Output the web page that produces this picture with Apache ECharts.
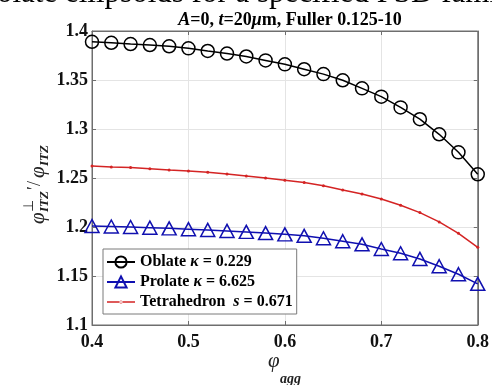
<!DOCTYPE html>
<html><head><meta charset="utf-8">
<script src="https://cdn.jsdelivr.net/npm/echarts@6/dist/echarts.min.js"></script>
<style>html,body{margin:0;padding:0;background:#fff}#c{width:492px;height:385px}</style>
</head><body><div id="c"></div>
<script>
var phiAgg = [0.40,0.42,0.44,0.46,0.48,0.50,0.52,0.54,0.56,0.58,0.60,0.62,0.64,0.66,0.68,0.70,0.72,0.74,0.76,0.78,0.80];
var oblate = [1.389,1.388,1.3867,1.3857,1.3844,1.3823,1.3796,1.377,1.374,1.370,1.366,1.361,1.356,1.3497,1.3415,1.333,1.322,1.310,1.2946,1.2762,1.2538];
var prolate = [1.201,1.2005,1.2,1.1993,1.1986,1.1978,1.197,1.196,1.195,1.1938,1.1925,1.191,1.1885,1.1855,1.1823,1.1775,1.1732,1.1674,1.160,1.1518,1.142];
var tetra = [1.2623,1.2613,1.2606,1.2595,1.2582,1.2572,1.2559,1.2541,1.252,1.25,1.2477,1.2453,1.242,1.2378,1.2337,1.2286,1.2222,1.2147,1.2052,1.1936,1.1793];
var seriesNames = ['Oblate', 'Prolate', 'Tetrahedron'];
var legendLabels = {
  'Oblate': '{b|Oblate }{i|κ}{b| = 0.229}',
  'Prolate': '{b|Prolate }{i|κ}{b| = 6.625}',
  'Tetrahedron': '{b|Tetrahedron  }{i|s}{b| = 0.671}'
};
var xTicks = {min:0.4, max:0.8, step:0.1};
var yTicks = {min:1.1, max:1.4, step:0.05};

function pairs(ys){ return phiAgg.map(function(x,i){return [x, ys[i]];}); }
var FONT = '"Liberation Serif","Times New Roman",serif';
var chart = echarts.init(document.getElementById('c'), null, {renderer:'canvas'});
var axisCol = '#6e6e6e';
var gridCol = '#e4e4e4';
var BLUE = '#1010b0', RED = '#d42424';
function fmt(v){ return String(parseFloat(v.toFixed(2))); }
var option = {
  backgroundColor:'#fff',
  animation:false,
  title:{
    text:'{i|A}{b|=0, }{i|t}{b|=20}{i|μ}{b|m, Fuller 0.125-10}',
    left:285, top:6, textAlign:'center',
    textStyle:{rich:{
      b:{fontFamily:FONT, fontWeight:'bold', fontSize:18, color:'#000'},
      i:{fontFamily:FONT, fontWeight:'bold', fontStyle:'italic', fontSize:18, color:'#000'}
    }}
  },
  grid:{left:92, right:14, top:31, bottom:60, show:true, borderColor:axisCol, borderWidth:1, backgroundColor:'#fff'},
  xAxis:[{
    type:'value', min:xTicks.min, max:xTicks.max, interval:xTicks.step, position:'bottom',
    axisLine:{show:true, lineStyle:{color:axisCol}},
    axisTick:{show:true, inside:true, length:4, lineStyle:{color:axisCol}},
    splitLine:{show:true, lineStyle:{color:gridCol, width:1}},
    axisLabel:{formatter:fmt, fontFamily:FONT, fontWeight:'bold', fontSize:18, color:'#111', margin:8}
  },{
    type:'value', min:xTicks.min, max:xTicks.max, interval:xTicks.step, position:'top',
    axisLine:{show:true, lineStyle:{color:axisCol}},
    axisTick:{show:true, inside:true, length:4, lineStyle:{color:axisCol}},
    splitLine:{show:false}, axisLabel:{show:false}
  }],
  yAxis:[{
    type:'value', min:yTicks.min, max:yTicks.max, interval:yTicks.step, position:'left',
    axisLine:{show:true, lineStyle:{color:axisCol}},
    axisTick:{show:true, inside:true, length:4, lineStyle:{color:axisCol}},
    splitLine:{show:true, lineStyle:{color:gridCol, width:1}},
    axisLabel:{formatter:fmt, fontFamily:FONT, fontWeight:'bold', fontSize:18, color:'#111', margin:4}
  },{
    type:'value', min:yTicks.min, max:yTicks.max, interval:yTicks.step, position:'right',
    axisLine:{show:true, lineStyle:{color:axisCol}},
    axisTick:{show:true, inside:true, length:4, lineStyle:{color:axisCol}},
    splitLine:{show:false}, axisLabel:{show:false}
  }],
  legend:{
    orient:'vertical', left:103, top:249,
    backgroundColor:'#fff', borderColor:'#7a7a7a', borderWidth:1,
    padding:[5,4,4,3], itemGap:4, itemWidth:28, itemHeight:14,
    data:[
      {name:seriesNames[0]},
      {name:seriesNames[1]},
      {name:seriesNames[2], icon:'path://M0,0.25L28,0.25L28,1.75L0,1.75Z M12.4,1a1.6,1.6 0 1,0 3.2,0a1.6,1.6 0 1,0 -3.2,0Z', itemStyle:{color:RED}}
    ],
    formatter:function(n){ return legendLabels[n]; },
    textStyle:{rich:{
      b:{fontFamily:FONT, fontWeight:'bold', fontSize:16, color:'#000'},
      i:{fontFamily:FONT, fontWeight:'bold', fontStyle:'italic', fontSize:16, color:'#000'}
    }}
  },
  series:[
    {name:seriesNames[0], type:'line', data:pairs(oblate), color:'#000',
     symbol:'circle', symbolSize:13, showAllSymbol:true,
     lineStyle:{color:'#000', width:1.5}, itemStyle:{color:'rgba(255,255,255,0)', borderColor:'#000', borderWidth:1.5}, z:3},
    {name:seriesNames[1], type:'line', data:pairs(prolate), color:BLUE,
     symbol:'path://M0,-10L8.66,5L-8.66,5Z', symbolSize:[14,13], showAllSymbol:true,
     lineStyle:{color:BLUE, width:1.5}, itemStyle:{color:'rgba(255,255,255,0)', borderColor:BLUE, borderWidth:1.5}, z:3},
    {name:seriesNames[2], type:'line', data:pairs(tetra), color:RED,
     symbol:'circle', symbolSize:3, showAllSymbol:true,
     lineStyle:{color:RED, width:1.5}, itemStyle:{color:RED}, z:3}
  ],
  graphic:[
    {type:'text', left:-3, top:-22, silent:true,
     style:{text:'olate ellipsoids for a specified PSD family', font:'31px "Liberation Serif", serif', fill:'#000'}},
    {type:'group', x:38, y:224, rotation:Math.PI/2, silent:true, children:[
      {type:'text', x:0, y:0, style:{text:'φ', font:'italic 21px "Liberation Serif", serif', fill:'#222', verticalAlign:'middle', align:'left'}},
      {type:'text', x:12, y:-9, style:{text:'⊥', font:'14px "Liberation Serif", serif', fill:'#222', verticalAlign:'middle', align:'left'}},
      {type:'text', x:12, y:7, style:{text:'ITZ', font:'italic bold 13px "Liberation Serif", serif', fill:'#222', verticalAlign:'middle', align:'left'}},
      {type:'text', x:34, y:-3, style:{text:'′/', font:'18px "Liberation Serif", serif', fill:'#222', verticalAlign:'middle', align:'left'}},
      {type:'text', x:46, y:0, style:{text:'φ', font:'italic 21px "Liberation Serif", serif', fill:'#222', verticalAlign:'middle', align:'left'}},
      {type:'text', x:58, y:7, style:{text:'ITZ', font:'italic bold 13px "Liberation Serif", serif', fill:'#222', verticalAlign:'middle', align:'left'}}
    ]},
    {type:'text', x:268, y:361, silent:true, style:{text:'φ', font:'italic 21px "Liberation Serif", serif', fill:'#222', verticalAlign:'middle', align:'left'}},
    {type:'text', x:280, y:379, silent:true, style:{text:'agg', font:'italic bold 14px "Liberation Serif", serif', fill:'#222', verticalAlign:'middle', align:'left'}}
  ]
};
chart.setOption(option);
</script>
</body></html>
